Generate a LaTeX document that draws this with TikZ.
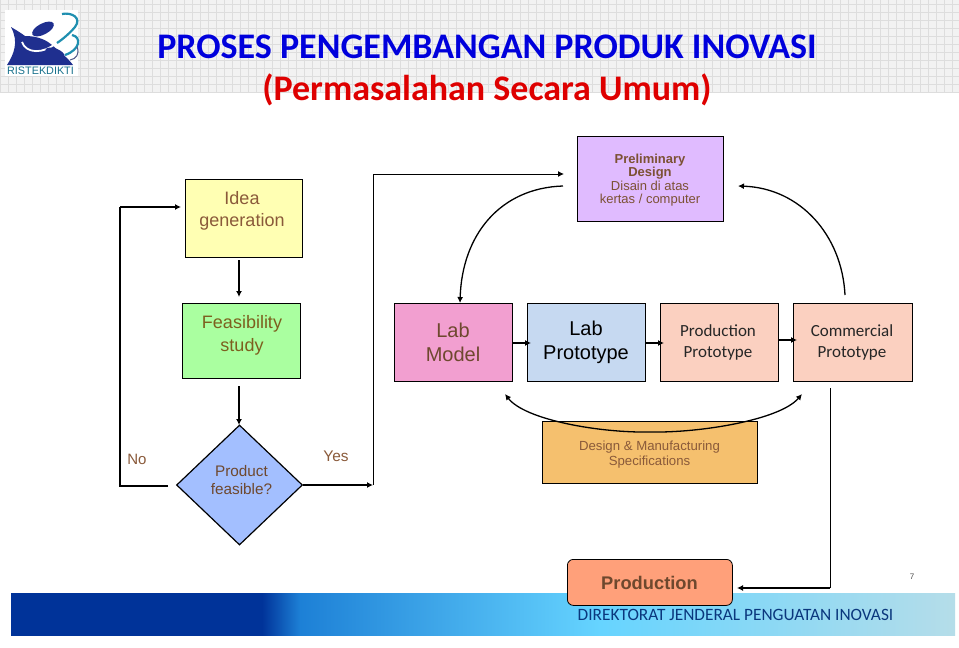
\documentclass[tikz,border=0pt]{standalone}
\usepackage{fontspec}
\setmainfont{Liberation Sans}
\newfontfamily\carl{Carlito}
\usetikzlibrary{shapes.geometric,arrows.meta}
\definecolor{gridc}{HTML}{DDDDDD}
\definecolor{bandc}{HTML}{F2F2F2}
\definecolor{txtbrown}{HTML}{8A5A3A}
\definecolor{footA}{HTML}{003399}
\definecolor{footB}{HTML}{1D80D6}
\definecolor{footC}{HTML}{66D4FF}
\definecolor{footD}{HTML}{B5DDE9}
\definecolor{logoB}{HTML}{1F2F8F}
\definecolor{logoT}{HTML}{1F8FB0}
\tikzset{
  boxbase/.style={draw=black,line width=0.7pt,inner sep=0pt,align=center,anchor=north west},
  flow/.style={line width=1.5pt,-{Latex[length=6pt,width=6pt]}},
  thinflow/.style={line width=1pt,-{Latex[length=6pt,width=6pt]}},
  curveflow/.style={line width=1.3pt,-{Latex[length=6pt,width=6pt]}},
}
\begin{document}
\begin{tikzpicture}[x=1pt,y=-1pt]
\useasboundingbox (0,0) rectangle (959,648);
\fill[white] (0,0) rectangle (959,648);
% header band
\fill[bandc] (0,0) rectangle (959,93);
\foreach \i in {0,8,...,952}{\draw[gridc,line width=0.5pt] (\i,0) -- (\i,93);}
\foreach \j in {4,12,...,92}{\draw[gridc,line width=0.5pt] (0,\j) -- (959,\j);}
% logo
\fill[white] (5,10) rectangle (78,76);
\fill[logoB] (11,27) .. controls (16,30) and (21,33) .. (25,36) .. controls (34,36) and (44,38) .. (52,45) .. controls (60,52) and (68,58) .. (73,65) -- (7,65) .. controls (14,54) and (19,42) .. (11,27) -- cycle;
\fill[logoB,rotate around={28:(43,29)}] (43,29) ellipse (12 and 5.5);
\draw[white,line width=1.8pt] (22,42) .. controls (26,54) and (44,54) .. (56,43);
\fill[logoB,rotate around={-20:(55,53)}] (55,53) ellipse (10 and 4.5);
\draw[logoT,line width=2.2pt] (62,14) .. controls (72,12) and (82,18) .. (75,27) .. controls (70,33) and (63,39) .. (57,43);
\draw[logoT,line width=2.2pt] (72,35) .. controls (82,37) and (80,50) .. (65,55);
\draw[logoB!50!gray,line width=1pt] (77,47) .. controls (80,54) and (76,59) .. (70,60);
\node[inner sep=0pt,text=logoT!80!black,font=\fontsize{10.8}{11}\selectfont] (logotext) at (40.5,71) {RISTEKDIKTI};
% titles
\node[inner sep=0pt,font=\carl\bfseries\fontsize{36}{38}\selectfont,text={rgb,255:red,0;green,0;blue,220}] (title) at (487,47) {PROSES PENGEMBANGAN PRODUK INOVASI};
\node[inner sep=0pt,font=\carl\bfseries\fontsize{36}{38}\selectfont,text={rgb,255:red,222;green,0;blue,0}] (subtitle) at (487,90) {(Permasalahan Secara Umum)};
% footer
\shade[left color=footA,right color=footA] (11,593) rectangle (262,635);
\shade[left color=footA,right color=footB] (262,593) rectangle (300,635);
\shade[left color=footB,right color=footC] (300,593) rectangle (600,635);
\shade[left color=footC,right color=footD] (600,593) rectangle (955,635);
\node[inner sep=0pt,font=\carl\fontsize{17.3}{18}\selectfont,text={rgb,255:red,10;green,55;blue,125}] (foot) at (735.5,615) {DIREKTORAT JENDERAL PENGUATAN INOVASI};
\node[inner sep=0pt,font=\fontsize{8}{9}\selectfont,text=black!70] (pageno) at (912,577) {7};
% boxes
\node[boxbase,fill={rgb,255:red,255;green,255;blue,179},minimum width=117pt,minimum height=78pt] (idea) at (185,179) {};
\node[align=center,font=\fontsize{18}{22}\selectfont,text=txtbrown] (ideat) at (242,211) {Idea\\generation};
\node[boxbase,fill={rgb,255:red,170;green,255;blue,160},minimum width=118pt,minimum height=75pt] (feas) at (182,303) {};
\node[align=center,font=\fontsize{18}{23}\selectfont,text={rgb,255:red,125;green,95;blue,30}] (feast) at (242,335.5) {Feasibility\\study};
\node[draw=black,line width=1.2pt,diamond,aspect=1.05,fill={rgb,255:red,163;green,191;blue,255},minimum width=126pt,minimum height=120pt,inner sep=0pt] (feasd) at (239.5,485) {};
\node[align=center,font=\fontsize{15.3}{18}\selectfont,text=txtbrown!80!black] (feasdt) at (241.5,480) {Product\\feasible?};
\node[boxbase,fill={rgb,255:red,242;green,159;blue,208},minimum width=118pt,minimum height=78pt] (labm) at (394,303) {};
\node[align=center,font=\fontsize{20}{24}\selectfont,text=txtbrown!80!black] (labmt) at (453,342.5) {Lab\\Model};
\node[boxbase,fill={rgb,255:red,198;green,217;blue,241},minimum width=118pt,minimum height=78pt] (labp) at (527,303) {};
\node[align=center,font=\fontsize{20}{24}\selectfont,text=black] (labpt) at (586,342.5) {Lab\\Prototype};
\node[boxbase,fill={rgb,255:red,251;green,208;blue,192},minimum width=118pt,minimum height=78pt] (prodp) at (660,303) {};
\node[align=center,font=\carl\fontsize{17}{21}\selectfont,text=black!85] (prodpt) at (718,342.5) {Production\\Prototype};
\node[boxbase,fill={rgb,255:red,251;green,208;blue,192},minimum width=119pt,minimum height=78pt] (comp) at (793,303) {};
\node[align=center,font=\carl\fontsize{17}{21}\selectfont,text=black!85] (compt) at (852,342.5) {Commercial\\Prototype};
\node[boxbase,fill={rgb,255:red,224;green,187;blue,255},minimum width=146pt,minimum height=85pt] (prelim) at (577,136) {};
\node[align=center,font=\fontsize{13}{13.3}\selectfont,text=txtbrown!90!black] (prelimt) at (650,180) {\textbf{Preliminary}\\\textbf{Design}\\Disain di atas\\kertas / computer};
\node[boxbase,fill={rgb,255:red,245;green,192;blue,110},minimum width=215pt,minimum height=62pt] (specs) at (542,421) {};
\node[align=center,font=\fontsize{13.2}{15}\selectfont,text=txtbrown] (specst) at (649.5,455) {Design \& Manufacturing\\Specifications};
\node[draw=black,line width=0.8pt,rounded corners=6pt,fill={rgb,255:red,255;green,160;blue,122},minimum width=165pt,minimum height=46pt,inner sep=0pt,anchor=north west] (prodn) at (567,559) {};
\node[font=\bfseries\fontsize{18.3}{20}\selectfont,text=txtbrown!80!black] (prodnt) at (649.5,582.5) {Production};
% connector helpers
\coordinate (ideabotm) at (239,260);
\coordinate (feastop) at (239,297);
\coordinate (fa) at (239,386);
\coordinate (fb) at (239,425);
\coordinate (nostart) at (168,486);
\coordinate (nocorner) at (120,486);
\coordinate (notop) at (120,207);
\coordinate (noend) at (181,207);
\coordinate (yescorner) at (373,485);
\coordinate (yestop) at (373,174);
\coordinate (yesend) at (564,174);
\coordinate (cA) at (563,186);
\coordinate (cB) at (460,303);
\coordinate (dA) at (845,295);
\coordinate (dB) at (738,186);
\coordinate (eA) at (505,394);
\coordinate (eB) at (802,394);
\coordinate (mA) at (512,343);
\coordinate (mB) at (531,343);
\coordinate (pA) at (645,343);
\coordinate (pB) at (664,343);
\coordinate (qA) at (778,340);
\coordinate (qB) at (797,340);
\coordinate (rA) at (830,388);
\coordinate (rB) at (830,588);
\coordinate (rC) at (737,588);
\draw[flow] (ideabotm) -- (feastop);
\draw[flow] (fa) -- (fb);
\draw[line width=1.5pt] (nostart) -- (nocorner) -- (notop);
\draw[flow] (notop) -- (noend);
\draw[flow] (feasd.east) -- (yescorner);
\draw[line width=1pt] (yescorner) -- (yestop);
\draw[thinflow] (yestop) -- (yesend);
\draw[curveflow] (cA) .. controls (500,188) and (462,235) .. (cB);
\draw[curveflow] (dA) .. controls (842,235) and (800,188) .. (dB);
\draw[curveflow,{Latex[length=6pt,width=6pt]}-{Latex[length=6pt,width=6pt]}] (eA) .. controls (525,420) and (600,433) .. (650,432) .. controls (700,433) and (780,420) .. (eB);
\draw[flow] (mA) -- (mB);
\draw[flow] (pA) -- (pB);
\draw[flow] (qA) -- (qB);
\draw[line width=1pt] (rA) -- (rB);
\draw[flow] (rB) -- (rC);
% labels
\node[font=\fontsize{15}{16}\selectfont,text=txtbrown] (nol) at (137,459) {No};
\node[font=\fontsize{15.4}{16}\selectfont,text=txtbrown] (yesl) at (336,456) {Yes};
\end{tikzpicture}
\end{document}
